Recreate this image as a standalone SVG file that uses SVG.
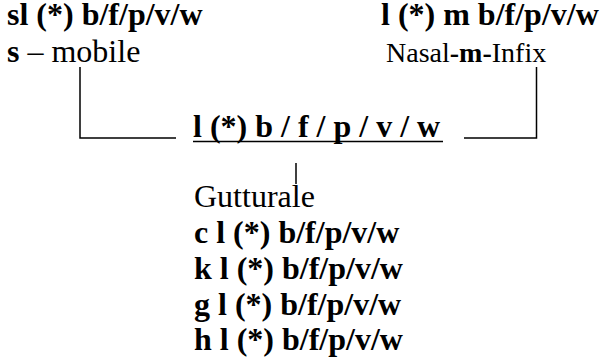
<svg xmlns="http://www.w3.org/2000/svg" width="603" height="362" viewBox="0 0 603 362">
<rect width="603" height="362" fill="#fff"/>
<g id="connectors" fill="none" stroke="#000" stroke-width="1.5">
<polyline points="80,67 80,138 176,138"/>
<polyline points="536.5,67 536.5,138 464,138"/>
<line x1="296" y1="163" x2="296" y2="184"/>
</g>
<g id="node-sl">
<text x="7" y="25" font-family="Liberation Serif" font-size="32" font-weight="bold">sl (*) b/f/p/v/w</text>
<text x="7" y="62" font-family="Liberation Serif" font-size="32"><tspan font-weight="bold">s</tspan> – mobile</text>
</g>
<g id="node-lm">
<text x="381" y="25" font-family="Liberation Serif" font-size="32" font-weight="bold">l (*) m b/f/p/v/w</text>
<text x="386" y="62" font-family="Liberation Serif" font-size="28">Nasal<tspan font-weight="bold">-m-</tspan>Infix</text>
</g>
<g id="node-center">
<text x="193" y="137" font-family="Liberation Serif" font-size="32" font-weight="bold">l (*) b / f / p / v / w</text>
<line x1="193" y1="141.5" x2="443" y2="141.5" stroke="#000" stroke-width="1.6"/>
</g>
<g id="node-gutturale">
<text x="194" y="207" font-family="Liberation Serif" font-size="32">Gutturale</text>
<text x="194" y="243" font-family="Liberation Serif" font-size="32" font-weight="bold">c l (*) b/f/p/v/w</text>
<text x="194" y="279" font-family="Liberation Serif" font-size="32" font-weight="bold">k l (*) b/f/p/v/w</text>
<text x="194" y="315" font-family="Liberation Serif" font-size="32" font-weight="bold">g l (*) b/f/p/v/w</text>
<text x="194" y="350" font-family="Liberation Serif" font-size="32" font-weight="bold">h l (*) b/f/p/v/w</text>
</g>
</svg>
